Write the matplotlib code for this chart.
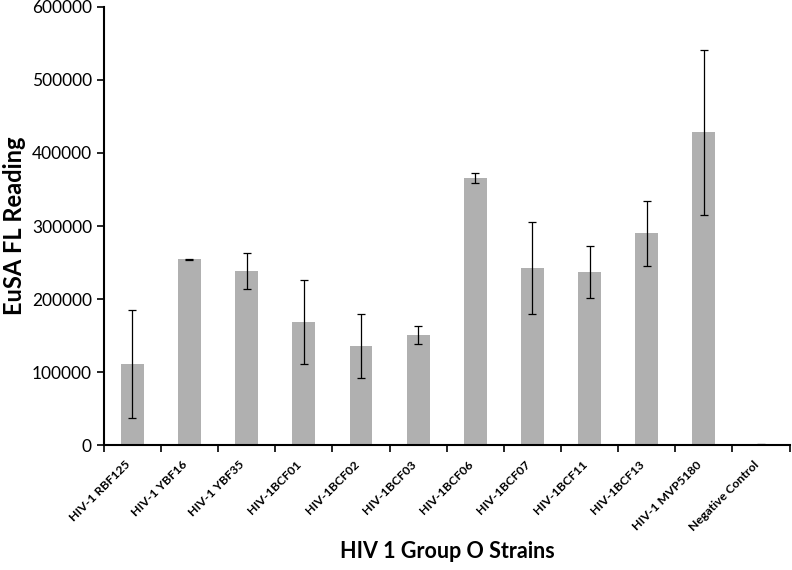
import numpy as np
import matplotlib.pyplot as plt

strains = ['HIV-1 RBF125', 'HIV-1 YBF16', 'HIV-1 YBF35', 'HIV-1BCF01', 'HIV-1BCF02',
           'HIV-1BCF03', 'HIV-1BCF06', 'HIV-1BCF07', 'HIV-1BCF11', 'HIV-1BCF13',
           'HIV-1 MVP5180', 'Negative Control']
readings = [111000, 254500, 238000, 168500, 135500, 151000, 366000, 242000, 237000,
            290000, 428000, 1000]
errors = [74000, 1000, 24500, 58000, 43500, 12000, 6500, 63000, 36000, 44500, 112500, 500]

plt.rcParams['font.family'] = ['Lato', 'DejaVu Sans']

fig = plt.figure(figsize=(7.92, 5.70), dpi=100)
ax = fig.add_axes([0.131, 0.219, 0.866, 0.769])

x = np.arange(len(strains))
ax.bar(x, readings, width=0.4, color='#b0b0b0', zorder=2)
ax.errorbar(x, readings, yerr=errors, fmt='none', ecolor='black', elinewidth=0.9,
            capsize=3, capthick=0.9, zorder=3)

ax.set_xlim(-0.5, len(strains) - 0.5)
ax.set_ylim(0, 600000)
ax.set_yticks(np.arange(0, 600001, 100000))
ax.tick_params(axis='y', labelsize=12.5, length=5, width=1.2, direction='out')

# category labels at the centres, tick marks between categories
ax.set_xticks(x)
ax.set_xticklabels(strains, rotation=45, ha='right', fontsize=8.8, fontweight='bold')
ax.tick_params(axis='x', which='major', length=0, pad=10)
ax.set_xticks(np.arange(-0.5, len(strains) + 0.5, 1), minor=True)
ax.tick_params(axis='x', which='minor', length=5, width=1.2, direction='out')

for side in ['top', 'right']:
    ax.spines[side].set_visible(False)
for side in ['left', 'bottom']:
    ax.spines[side].set_linewidth(1.5)

ax.set_ylabel('EuSA FL Reading', fontsize=17, fontweight='bold', labelpad=4)
fig.text(0.565, 0.033, 'HIV 1 Group O Strains', fontsize=15.5, fontweight='bold',
         ha='center', va='center')

fig.savefig('out.png', dpi=100)
